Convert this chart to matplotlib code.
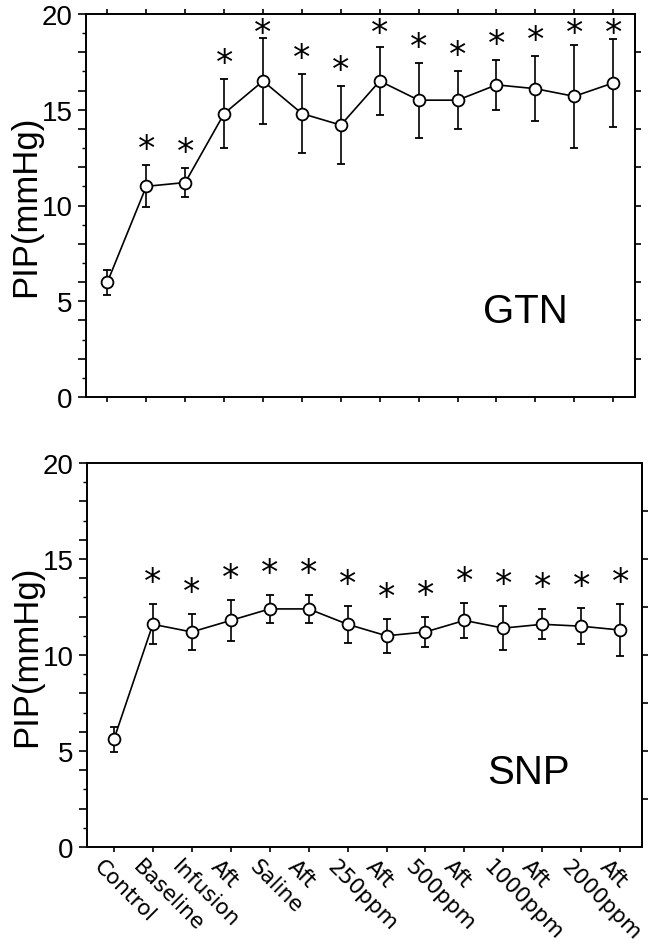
import matplotlib
matplotlib.use('Agg')
import matplotlib.pyplot as plt
import matplotlib.transforms as mtransforms
from matplotlib.ticker import FixedLocator, FuncFormatter
import numpy as np

plt.rcParams['font.family'] = ['Liberation Sans', 'DejaVu Sans']

categories = ['Control', 'Baseline', 'Infusion', 'Aft', 'Saline', 'Aft', '250ppm',
              'Aft', '500ppm', 'Aft', '1000ppm', 'Aft', '2000ppm', 'Aft']

gtn_mean = [6.0, 11.0, 11.2, 14.8, 16.5, 14.8, 14.2, 16.5, 15.5, 15.5, 16.3, 16.1, 15.7, 16.4]
gtn_sem = [0.65, 1.1, 0.75, 1.8, 2.25, 2.05, 2.05, 1.8, 1.95, 1.5, 1.3, 1.7, 2.7, 2.3]
gtn_sig = [0, 1, 1, 1, 1, 1, 1, 1, 1, 1, 1, 1, 1, 1]

snp_mean = [5.6, 11.6, 11.2, 11.8, 12.4, 12.4, 11.6, 11.0, 11.2, 11.8, 11.4, 11.6, 11.5, 11.3]
snp_sem = [0.66, 1.05, 0.95, 1.07, 0.71, 0.72, 0.95, 0.88, 0.76, 0.9, 1.15, 0.78, 0.95, 1.34]
snp_sig = [0, 1, 1, 1, 1, 1, 1, 1, 1, 1, 1, 1, 1, 1]

y_label = 'PIP(mmHg)'
y_major = [0, 2, 4, 5, 6, 8, 10, 12, 14, 15, 16, 18, 20]
y_minor = [1, 3, 7, 9, 11, 13, 17, 19]

W, H = 651, 945
fig = plt.figure(figsize=(W / 100, H / 100), dpi=100)
fig.patch.set_facecolor('white')


def panel(rect, mean, sem, sig, name, name_xy, star_off, star_max, right_ticks,
          xlim, show_xlabels, top_ticks):
    l, t, r, b = rect
    ax = fig.add_axes([l / W, 1 - b / H, (r - l) / W, (b - t) / H])
    x = np.arange(len(categories))
    ax.errorbar(x, mean, yerr=sem, fmt='none', ecolor='black', elinewidth=1.2,
                capsize=3.2, capthick=1.3, zorder=2)
    ax.plot(x, mean, '-', color='black', lw=1.2, marker='o', ms=8.5,
            mfc='white', mec='black', mew=1.3, zorder=3)
    for xi, m, s, g in zip(x, mean, sem, sig):
        if g:
            ys = min(m + s + star_off, star_max)
            ax.text(xi, ys, '*', ha='center', va='center', fontsize=25,
                    family='DejaVu Sans', zorder=4)
    ax.set_xlim(*xlim)
    ax.set_ylim(0, 20)
    ax.yaxis.set_major_locator(FixedLocator(y_major))
    ax.yaxis.set_minor_locator(FixedLocator(y_minor))
    ax.yaxis.set_major_formatter(FuncFormatter(lambda v, p: f'{int(v)}' if v % 5 == 0 else ''))
    ax.tick_params(axis='y', which='major', direction='out', length=5.5, width=1.2,
                   labelsize=20, pad=4)
    ax.tick_params(axis='y', which='minor', direction='out', length=3, width=1.0)
    ax.set_xticks(x)
    ax.tick_params(axis='x', direction='out', length=3.5, width=1.2, top=top_ticks)
    if show_xlabels:
        ax.set_xticklabels(categories, rotation=-45, ha='left', va='top',
                           rotation_mode='anchor', fontsize=15.5, family='DejaVu Sans')
        ax.tick_params(axis='x', pad=3)
        shift = mtransforms.ScaledTranslation(-10 / 100, 0, fig.dpi_scale_trans)
        for lab in ax.get_xticklabels():
            lab.set_transform(lab.get_transform() + shift)
    else:
        ax.set_xticklabels([])
    sec = ax.secondary_yaxis('right')
    sec.set_yticks(right_ticks)
    sec.tick_params(direction='out', length=4, width=1.2, labelright=False)
    for s in ax.spines.values():
        s.set_linewidth(1.4)
    sec.spines['right'].set_linewidth(1.4)
    ax.set_ylabel(y_label, fontsize=25, labelpad=0)
    ax.text(name_xy[0], name_xy[1], name, transform=ax.transAxes, fontsize=29,
            ha='center', va='center')
    return ax


panel((86, 15, 635, 398), gtn_mean, gtn_sem, gtn_sig, 'GTN', (0.80, 0.225),
      0.85, 19.0, list(range(2, 19, 2)), (-0.55, 13.56), False, True)
panel((87, 464, 642, 848), snp_mean, snp_sem, snp_sig, 'SNP', (0.796, 0.195),
      1.15, 19.0, [2.5, 5, 7.5, 10, 12.5, 15, 17.5], (-0.69, 13.56), True, False)

fig.savefig('out.png', dpi=100, facecolor='white')
